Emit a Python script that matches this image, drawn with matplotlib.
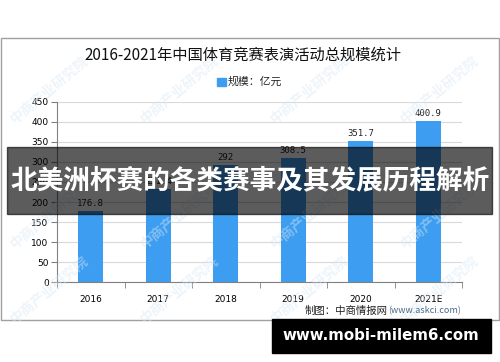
import numpy as np
import matplotlib.pyplot as plt
from matplotlib.patches import Rectangle

plt.rcParams['font.family'] = ['Noto Sans CJK SC', 'DejaVu Sans']

#=========================================================
#                  data
#=========================================================
years   = ['2016', '2017', '2018', '2019', '2020', '2021E']
values  = [176.8, 231.4, 292, 308.5, 351.7, 400.9]
yticks  = [0, 50, 100, 150, 200, 250, 300, 350, 400, 450]

title    = '2016-2021年中国体育竞赛表演活动总规模统计'
legend_t = '规模：亿元'
source_a = '制图：中商情报网'
source_b = '(www.askci.com)'
banner   = '北美洲杯赛的各类赛事及其发展历程解析'
url      = 'www.mobi-milem6.com'
wmark    = '中商产业研究院'

bar_col  = '#3d9df0'

#=========================================================
#                  plot
#=========================================================
W, H = 500, 362
fig = plt.figure(figsize=(W/100, H/100), dpi=100)

def fx(px):
    return px/W
def fy(py):
    return 1 - py/H

# outer frame of the chart image
fig.patches.append(Rectangle((fx(0.5), fy(320)), fx(498.5), fy(38)-fy(320),
                             transform=fig.transFigure, fill=False,
                             edgecolor='#a0a0a0', lw=1.0, zorder=0))

# faint watermarks
for wx in [50, 180, 310, 440]:
    for wy in [90, 215, 290]:
        fig.text(fx(wx), fy(wy), wmark, rotation=40, fontsize=10,
                 color='#d8e8f5', alpha=0.45, ha='center', va='center',
                 fontweight='bold', zorder=0)

ax = fig.add_axes([fx(57), fy(282.3), fx(462)-fx(57), fy(101.7)-fy(282.3)])
ax.patch.set_alpha(0)
x = np.arange(len(years))
ax.bar(x, values, width=0.37, color=bar_col, zorder=2)
for xi, v in zip(x, values):
    lab = ('%g' % v)
    ax.text(xi, v + 8, lab, ha='center', va='bottom', fontsize=6.5,
            color='#222222', family='DejaVu Sans Mono')

ax.set_xlim(-0.5, len(years) - 0.5)
ax.set_ylim(0, 450)
ax.set_yticks(yticks)
ax.set_yticklabels([str(t) for t in yticks], fontsize=6.5, family='DejaVu Sans')
ax.set_xticks(x)
ax.set_xticklabels(years, fontsize=6.5, family='DejaVu Sans')
ax.set_xticks(np.arange(-0.5, len(years)), minor=True)
ax.tick_params(axis='x', which='major', length=0, pad=9)
ax.tick_params(axis='x', which='minor', length=4, color='#808080')
ax.tick_params(axis='y', length=4, color='#808080', pad=2)
ax.grid(axis='y', color='#d9d9d9', lw=0.8, zorder=0)
for s in ['top', 'right']:
    ax.spines[s].set_visible(False)
ax.spines['left'].set_color('#808080')
ax.spines['bottom'].set_color('#808080')

# title and legend
fig.text(fx(243), fy(55), title, ha='center', va='center', fontsize=11,
         fontweight='medium', color='#111111')
fig.patches.append(Rectangle((fx(217), fy(86)), fx(9), fy(78)-fy(86),
                             transform=fig.transFigure, color=bar_col))
fig.text(fx(228), fy(82), legend_t, ha='left', va='center', fontsize=7.8,
         color='#222222')

# source
fig.text(fx(305), fy(310.5), source_a, ha='left', va='center', fontsize=7.5,
         color='#222222')
fig.text(fx(388), fy(311), source_b, ha='left', va='center', fontsize=6.5,
         color='#4a6b8a')

# dark overlay banner
fig.patches.append(Rectangle((fx(7), fy(214.3)), fx(485), fy(146.7)-fy(214.3),
                             transform=fig.transFigure, color='black',
                             alpha=0.64, zorder=5))
fig.text(fx(250), fy(181), banner, ha='center', va='center', fontsize=19.2,
         fontweight='bold', color='white', zorder=6)

# url banner
fig.patches.append(Rectangle((fx(272), fy(352.7)), fx(218.7), fy(319)-fy(352.7),
                             transform=fig.transFigure, color='black', zorder=5))
fig.text(fx(381), fy(336), url, ha='center', va='center', fontsize=10.8,
         fontweight='bold', color='white', family='DejaVu Sans', zorder=6)

fig.savefig('out.png', dpi=100)
